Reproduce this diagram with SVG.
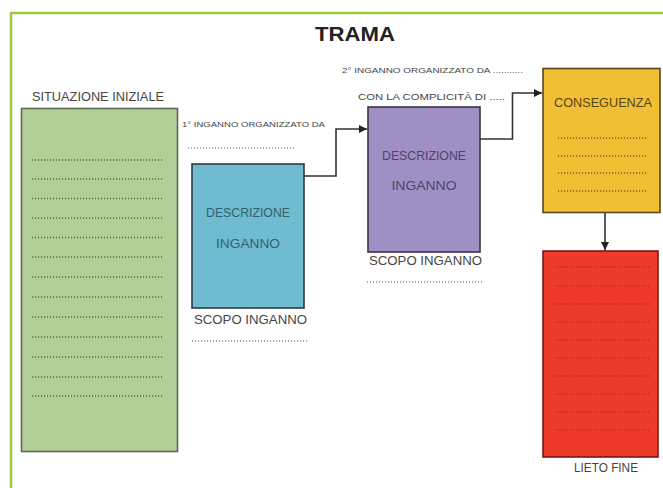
<svg xmlns="http://www.w3.org/2000/svg" width="663" height="488" viewBox="0 0 663 488">
<defs>
<style>
.lbl{font-family:"Liberation Sans","DejaVu Sans",sans-serif;fill:#454545}
.big{font-size:12.5px}
.small{font-size:7.5px}
.mid{font-size:9px}
.title{font-family:"Liberation Sans",sans-serif;font-size:20px;font-weight:bold;fill:#222}
.inbox{font-family:"Liberation Sans",sans-serif;font-size:12.5px;text-anchor:middle}
.conn{fill:none;stroke:#333;stroke-width:1.6}
.dots{stroke-width:1.3;stroke-dasharray:1.1 1.9}
</style>
<marker id="arr" markerUnits="userSpaceOnUse" markerWidth="9" markerHeight="8" refX="8" refY="4" orient="auto">
<path d="M0,0 L8,4 L0,8 z" fill="#222"/>
</marker>
</defs>
<rect width="663" height="488" fill="#ffffff"/>
<g id="frame" fill="none" stroke="#9DCB3B" stroke-width="2.5">
<path d="M11,488 V13 H663"/>
</g>
<text class="title" x="355" y="41" text-anchor="middle" textLength="80" lengthAdjust="spacingAndGlyphs">TRAMA</text>

<g id="situazione-iniziale">
<text class="lbl big" x="32" y="101" textLength="132" lengthAdjust="spacingAndGlyphs">SITUAZIONE INIZIALE</text>
<rect x="21.5" y="108.5" width="156" height="343" fill="#B3CF98" stroke="#5C6A55" stroke-width="1.6"/>
<g class="dots" stroke="#4E6B45">
<line x1="32" y1="160" x2="164" y2="160"/>
<line x1="32" y1="179" x2="164" y2="179"/>
<line x1="32" y1="198.5" x2="164" y2="198.5"/>
<line x1="32" y1="218" x2="164" y2="218"/>
<line x1="32" y1="237.5" x2="164" y2="237.5"/>
<line x1="32" y1="257" x2="164" y2="257"/>
<line x1="32" y1="277" x2="164" y2="277"/>
<line x1="32" y1="297" x2="164" y2="297"/>
<line x1="32" y1="317" x2="164" y2="317"/>
<line x1="32" y1="337" x2="164" y2="337"/>
<line x1="32" y1="357" x2="164" y2="357"/>
<line x1="32" y1="377" x2="164" y2="377"/>
<line x1="32" y1="396" x2="164" y2="396"/>
</g>
</g>

<g id="inganno-1">
<text class="lbl small" x="182" y="127" textLength="143" lengthAdjust="spacingAndGlyphs">1° INGANNO ORGANIZZATO DA</text>
<line class="dots" x1="188" y1="148" x2="295" y2="148" stroke="#9a9a9a"/>
<rect x="192" y="164" width="112" height="144" fill="#6FBBD0" stroke="#2B3B42" stroke-width="1.6"/>
<text class="inbox" x="248" y="217" fill="#34606F" textLength="84" lengthAdjust="spacingAndGlyphs">DESCRIZIONE</text>
<text class="inbox" x="248" y="248" fill="#34606F" textLength="64" lengthAdjust="spacingAndGlyphs">INGANNO</text>
<text class="lbl big" x="194" y="324" textLength="113" lengthAdjust="spacingAndGlyphs">SCOPO INGANNO</text>
<line class="dots" x1="192" y1="341" x2="308" y2="341" stroke="#8a8a8a"/>
</g>

<g id="inganno-2">
<text class="lbl small" x="342" y="73" textLength="181" lengthAdjust="spacingAndGlyphs">2° INGANNO ORGANIZZATO DA ...........</text>
<text class="lbl mid" x="358" y="100" textLength="147" lengthAdjust="spacingAndGlyphs">CON LA COMPLICITÀ DI .....</text>
<rect x="368" y="107" width="112" height="145" fill="#9F8FC4" stroke="#3A3245" stroke-width="1.6"/>
<text class="inbox" x="424" y="160" fill="#4D4568" textLength="84" lengthAdjust="spacingAndGlyphs">DESCRIZIONE</text>
<text class="inbox" x="424" y="190" fill="#4D4568" textLength="65" lengthAdjust="spacingAndGlyphs">INGANNO</text>
<text class="lbl big" x="369" y="265" textLength="113" lengthAdjust="spacingAndGlyphs">SCOPO INGANNO</text>
<line class="dots" x1="367" y1="282" x2="483" y2="282" stroke="#8a8a8a"/>
</g>

<g id="conseguenza">
<rect x="543" y="68.5" width="117" height="144" fill="#F0BF33" stroke="#5A4722" stroke-width="1.6"/>
<text class="inbox" x="603" y="107" fill="#5A4520" textLength="98" lengthAdjust="spacingAndGlyphs">CONSEGUENZA</text>
<g class="dots" stroke="#8A5A1A">
<line x1="558" y1="138" x2="648" y2="138"/>
<line x1="558" y1="156" x2="648" y2="156"/>
<line x1="558" y1="173" x2="648" y2="173"/>
<line x1="558" y1="191" x2="648" y2="191"/>
</g>
</g>

<g id="lieto-fine">
<rect x="543" y="251" width="115" height="206" fill="#EE3A2A" stroke="#7A1A12" stroke-width="1.6"/>
<g class="dots" stroke="#B8281C">
<line x1="555" y1="267" x2="650" y2="267"/>
<line x1="555" y1="286" x2="650" y2="286"/>
<line x1="555" y1="304" x2="650" y2="304"/>
<line x1="555" y1="322" x2="650" y2="322"/>
<line x1="555" y1="340" x2="650" y2="340"/>
<line x1="555" y1="358" x2="650" y2="358"/>
<line x1="555" y1="376" x2="650" y2="376"/>
<line x1="555" y1="394" x2="650" y2="394"/>
<line x1="555" y1="412" x2="650" y2="412"/>
<line x1="555" y1="430" x2="650" y2="430"/>
</g>
<text class="lbl big" x="606" y="472" text-anchor="middle" textLength="64" lengthAdjust="spacingAndGlyphs">LIETO FINE</text>
</g>

<g id="connectors">
<path class="conn" d="M304,176 H336 V129 H367" marker-end="url(#arr)"/>
<path class="conn" d="M480,139 H512.5 V93 H542" marker-end="url(#arr)"/>
<path class="conn" d="M605,213 V250" marker-end="url(#arr)"/>
</g>
</svg>
